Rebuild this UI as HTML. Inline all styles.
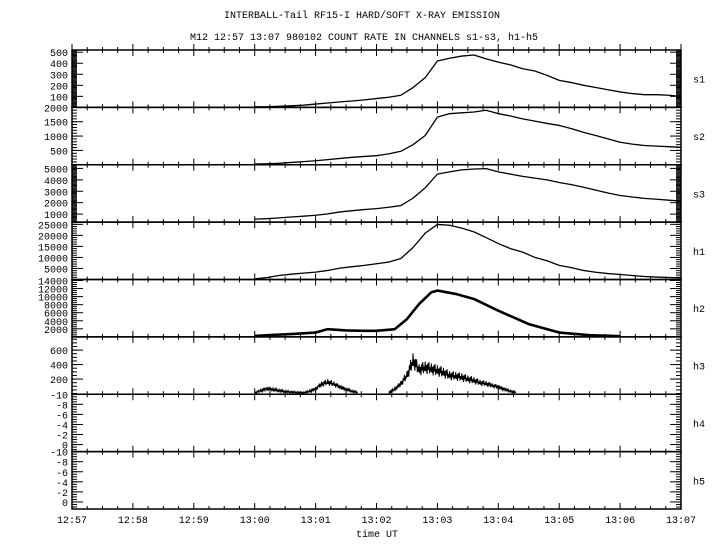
<!DOCTYPE html>
<html><head><meta charset="utf-8">
<style>
html,body{margin:0;padding:0;background:#fff;}
svg text{font-family:"Liberation Mono","DejaVu Sans Mono",monospace;font-size:10px;fill:#000;}
</style></head>
<body>
<svg id="chart" width="720" height="550" viewBox="0 0 720 550" xmlns="http://www.w3.org/2000/svg">
<rect x="0" y="0" width="720" height="550" fill="#fff"/>
<text x="362" y="18" text-anchor="middle">INTERBALL-Tail RF15-I HARD/SOFT X-RAY EMISSION</text>
<text x="364" y="40" text-anchor="middle">M12  12:57 13:07 980102  COUNT RATE IN CHANNELS s1-s3, h1-h5</text>
<text x="377" y="537" text-anchor="middle">time UT</text>
<g id="g"></g>
</svg>
<script>
// time in minutes after 12:57
var tSoft = [3.0,3.2,3.4,3.6,3.8,4.0,4.2,4.4,4.6,4.8,5.0,5.2,5.4,5.6,5.8,6.0,6.2,6.4,6.6,6.8,7.0,7.2,7.4,7.6,7.8,8.0,8.2,8.4,8.6,8.8,9.0,9.2,9.4,9.6,9.8,10.0];
var s1 = [5,6,10,14,20,30,40,50,58,68,80,92,110,180,270,420,445,465,475,440,410,385,350,330,290,245,225,200,180,160,140,125,115,115,110,100];
var s2 = [25,35,50,80,110,140,180,220,260,290,316,380,470,700,1020,1660,1780,1810,1840,1900,1780,1700,1600,1520,1440,1370,1260,1130,1020,900,784,720,670,650,630,608];
var s3 = [560,600,670,750,820,900,1020,1190,1300,1400,1480,1600,1750,2400,3300,4500,4700,4870,4950,4980,4700,4500,4300,4150,4000,3770,3580,3350,3100,2850,2630,2500,2380,2300,2220,2140];
var h1 = [300,900,1800,2400,2900,3350,4100,5150,5800,6400,7150,7900,9500,14500,21000,24950,24600,23300,21580,19000,16280,14000,12400,10000,8500,6390,5400,4100,3300,2700,2280,1800,1370,1100,900,770];
var tH2 = [3.0,3.3,3.6,4.0,4.2,4.5,4.8,5.0,5.3,5.5,5.7,5.9,6.0,6.3,6.6,7.0,7.5,8.0,8.5,9.0];
var h2 = [250,500,700,1080,1920,1600,1500,1500,1920,4420,8170,11080,11500,10670,9420,6500,3170,1080,420,170];
var tH3a = [3.0,3.1,3.2,3.3,3.4,3.5,3.6,3.7,3.8,3.9,4.0,4.1,4.2,4.3,4.4,4.5,4.6,4.7];
var h3a = [8,40,68,55,40,28,20,15,10,30,68,130,158,130,90,60,30,15];
var tH3b = [5.2,5.3,5.4,5.5,5.6,5.7,5.8,5.9,6.0,6.1,6.2,6.3,6.4,6.5,6.6,6.7,6.8,6.9,7.0,7.1,7.2,7.3];
var h3b = [15,60,136,250,455,330,360,340,318,290,250,240,226,200,180,150,136,110,90,60,30,17];
var yTicksS1 = [100,200,300,400,500];
var yTicksS2 = [500,1000,1500,2000];
var yTicksS3 = [1000,2000,3000,4000,5000];
var yTicksH1 = [5000,10000,15000,20000,25000];
var yTicksH2 = [2000,4000,6000,8000,10000,12000,14000];
var yTicksH3 = [200,400,600];
var yTicksH45 = [-10,-8,-6,-4,-2,0];
var xTickLabels = ["12:57","12:58","12:59","13:00","13:01","13:02","13:03","13:04","13:05","13:06","13:07"];

var NS = "http://www.w3.org/2000/svg";
var g = document.getElementById("g");
var X0 = 72, X1 = 681, PT = 50, PH = 57.375;
function xs(t){ return X0 + (t/10)*(X1-X0); }
function mk(tag, attrs){ var e=document.createElementNS(NS,tag); for(var k in attrs) e.setAttribute(k, attrs[k]); g.appendChild(e); return e; }

var panels = [
 {n:"s1", lo:0, hi:520, ticks:yTicksS1, minor:10},
 {n:"s2", lo:0, hi:2000, ticks:yTicksS2, minor:100},
 {n:"s3", lo:300, hi:5320, ticks:yTicksS3, minor:100},
 {n:"h1", lo:0, hi:26000, ticks:yTicksH1, minor:1000},
 {n:"h2", lo:0, hi:14250, ticks:yTicksH2, minor:500},
 {n:"h3", lo:-10, hi:783, ticks:yTicksH3, minor:50},
 {n:"h4", lo:1.4, hi:-10, ticks:yTicksH45, minor:0.5},
 {n:"h5", lo:1.4, hi:-10, ticks:yTicksH45, minor:0.5}
];
panels.forEach(function(p,i){
  var top = PT + i*PH, bot = top + PH;
  p.ys = function(v){ return bot - (v - p.lo)/(p.hi - p.lo)*PH; };
  var fr = mk("rect",{x:X0,y:top,width:X1-X0,height:PH,fill:"none",stroke:"#000","stroke-width":1.5});
  
  
  var a = Math.min(p.lo,p.hi), b = Math.max(p.lo,p.hi);
  var start = Math.ceil(a/p.minor)*p.minor;
  for (var v=start; v<=b+1e-9; v+=p.minor){
    var y = p.ys(v);
    mk("line",{x1:X0,y1:y,x2:X0+5,y2:y,stroke:"#000","stroke-width":1});
    mk("line",{x1:X1-5,y1:y,x2:X1,y2:y,stroke:"#000","stroke-width":1});
  }
  p.ticks.forEach(function(v){
    var y = p.ys(v);
    mk("line",{x1:X0,y1:y,x2:X0+11,y2:y,stroke:"#000","stroke-width":1});
    mk("line",{x1:X1-11,y1:y,x2:X1,y2:y,stroke:"#000","stroke-width":1});
    var t = mk("text",{x:X0-4,y:y+4,"text-anchor":"end"});
    t.textContent = String(v);
    
    
  });
  var lab = mk("text",{x:693,y:top+PH/2+4});
  lab.textContent = p.n;
  
  
  for (var k=0;k<=40;k++){
    var x = xs(k/4), major = (k%4===0);
    var L = major?6:3;
    mk("line",{x1:x,y1:top-L,x2:x,y2:top+L,stroke:"#000","stroke-width":1});
    if(i===panels.length-1) mk("line",{x1:x,y1:bot-L,x2:x,y2:bot,stroke:"#000","stroke-width":1});
  }
});
xTickLabels.forEach(function(s,k){
  var t = mk("text",{x:xs(k),y:523,"text-anchor":"middle"});
  t.textContent = s;
  
  
});

function smoothLine(ts, vs, p, name, w){
  var d = ts.map(function(t,i){ return (i?"L":"M")+xs(t)+" "+p.ys(vs[i]); }).join(" ");
  var e = mk("path",{d:d,fill:"none",stroke:"#000","stroke-width":w,"stroke-linejoin":"round"});
  
  
}
var jit = [0.9,-0.6,0.4,-1,0.7,-0.3,1,-0.8,0.2,-0.5];
function noisyLine(ts, vs, p, name){
  var d = "", c = 0;
  for (var i=0;i<ts.length-1;i++){
    for (var j=0;j<10;j++){
      var f=j/10, t=ts[i]+(ts[i+1]-ts[i])*f;
      var v=vs[i]+(vs[i+1]-vs[i])*f;
      var amp = jit[(c++)%jit.length]*(0.22*Math.abs(v)+10);
      d += (d?" L":"M")+xs(t)+" "+p.ys(v+amp);
    }
  }
  var e = mk("path",{d:d,fill:"none",stroke:"#000","stroke-width":1});
  
  
}
smoothLine(tSoft, s1, panels[0], "series-s1", 1.3);
smoothLine(tSoft, s2, panels[1], "series-s2", 1.3);
smoothLine(tSoft, s3, panels[2], "series-s3", 1.3);
smoothLine(tSoft, h1, panels[3], "series-h1", 1.3);
smoothLine(tH2, h2, panels[4], "series-h2", 2.6);
noisyLine(tH3a, h3a, panels[5], "series-h3-early");
noisyLine(tH3b, h3b, panels[5], "series-h3-main");
</script>
</body></html>
